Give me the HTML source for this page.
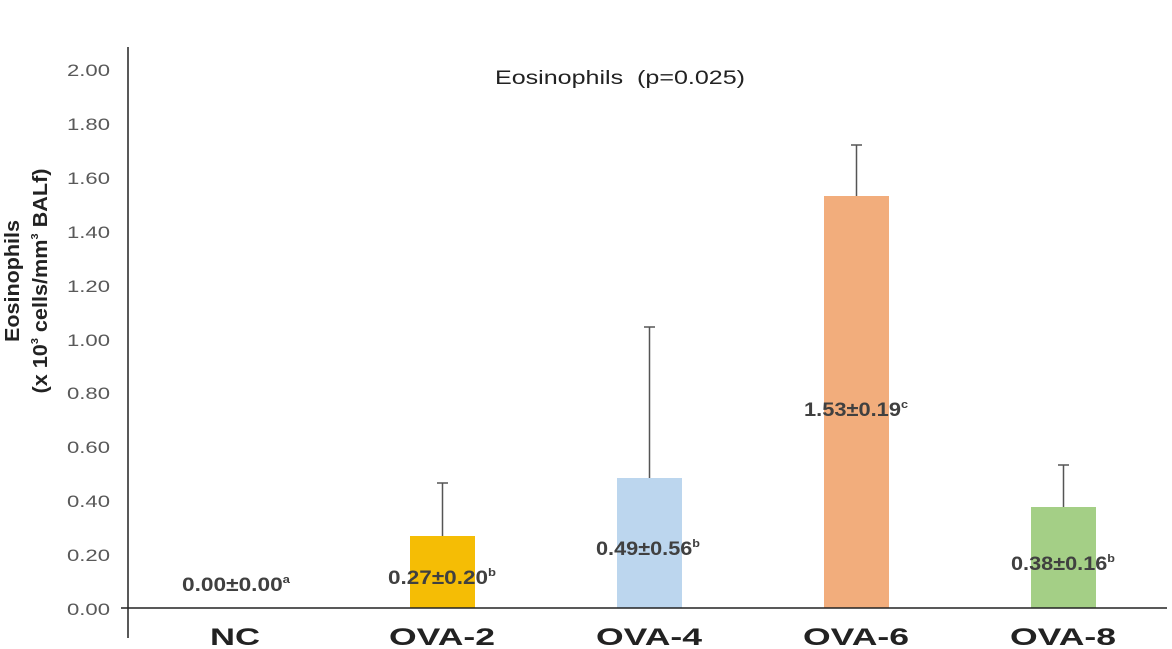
<!DOCTYPE html>
<html><head><meta charset="utf-8"><style>
html,body{margin:0;padding:0;background:#fff;}
svg{display:block;font-family:"Liberation Sans",sans-serif;}
</style></head><body>
<svg width="1172" height="649" viewBox="0 0 1172 649">
<rect width="1172" height="649" fill="#fff"/>
<g font-size="17" fill="#595959" text-anchor="end">
<text x="110" y="615" textLength="43" lengthAdjust="spacingAndGlyphs">0.00</text>
<text x="110" y="561" textLength="43" lengthAdjust="spacingAndGlyphs">0.20</text>
<text x="110" y="507" textLength="43" lengthAdjust="spacingAndGlyphs">0.40</text>
<text x="110" y="453" textLength="43" lengthAdjust="spacingAndGlyphs">0.60</text>
<text x="110" y="399" textLength="43" lengthAdjust="spacingAndGlyphs">0.80</text>
<text x="110" y="346" textLength="43" lengthAdjust="spacingAndGlyphs">1.00</text>
<text x="110" y="292" textLength="43" lengthAdjust="spacingAndGlyphs">1.20</text>
<text x="110" y="238" textLength="43" lengthAdjust="spacingAndGlyphs">1.40</text>
<text x="110" y="184" textLength="43" lengthAdjust="spacingAndGlyphs">1.60</text>
<text x="110" y="130" textLength="43" lengthAdjust="spacingAndGlyphs">1.80</text>
<text x="110" y="76" textLength="43" lengthAdjust="spacingAndGlyphs">2.00</text>
</g>
<g font-size="20" font-weight="bold" fill="#222" text-anchor="middle">
<text transform="translate(19,281) rotate(-90)" textLength="122" lengthAdjust="spacingAndGlyphs">Eosinophils</text>
<text transform="translate(47,281) rotate(-90)" textLength="225" lengthAdjust="spacingAndGlyphs">(x 10<tspan font-size="10" dy="-9">3</tspan><tspan dy="9"> cells/mm</tspan><tspan font-size="10" dy="-9">3</tspan><tspan dy="9"> BALf)</tspan></text>
</g>
<text x="620" y="84" font-size="19" fill="#222" text-anchor="middle" textLength="250" lengthAdjust="spacingAndGlyphs" xml:space="preserve">Eosinophils  (p=0.025)</text>
<rect x="410" y="536" width="65" height="72" fill="#f5bd05"/>
<rect x="617" y="478" width="65" height="130" fill="#bcd6ee"/>
<rect x="824" y="196" width="65" height="412" fill="#f2ad7c"/>
<rect x="1031" y="507" width="65" height="101" fill="#a4cf86"/>
<g stroke="#555" stroke-width="1.5">
<line x1="442.5" y1="536" x2="442.5" y2="483"/><line x1="437" y1="483" x2="448" y2="483"/>
<line x1="649.5" y1="478" x2="649.5" y2="327"/><line x1="644" y1="327" x2="655" y2="327"/>
<line x1="856.5" y1="196" x2="856.5" y2="145"/><line x1="851" y1="145" x2="862" y2="145"/>
<line x1="1063.5" y1="507" x2="1063.5" y2="465"/><line x1="1058" y1="465" x2="1069" y2="465"/>
</g>
<line x1="128" y1="47" x2="128" y2="638" stroke="#222" stroke-width="1.5"/>
<line x1="121" y1="608" x2="1167" y2="608" stroke="#222" stroke-width="1.5"/>
<g font-size="19" font-weight="bold" fill="#404040" text-anchor="middle">
<text x="236" y="591" textLength="108" lengthAdjust="spacingAndGlyphs">0.00±0.00<tspan font-size="11" dy="-8">a</tspan></text>
<text x="442" y="584" textLength="108" lengthAdjust="spacingAndGlyphs">0.27±0.20<tspan font-size="11" dy="-8">b</tspan></text>
<text x="648" y="555" textLength="104" lengthAdjust="spacingAndGlyphs">0.49±0.56<tspan font-size="11" dy="-8">b</tspan></text>
<text x="856" y="416" textLength="104" lengthAdjust="spacingAndGlyphs">1.53±0.19<tspan font-size="11" dy="-8">c</tspan></text>
<text x="1063" y="570" textLength="104" lengthAdjust="spacingAndGlyphs">0.38±0.16<tspan font-size="11" dy="-8">b</tspan></text>
</g>
<g font-size="24" font-weight="bold" fill="#222" text-anchor="middle">
<text x="235" y="645" textLength="50" lengthAdjust="spacingAndGlyphs">NC</text>
<text x="442" y="645" textLength="106" lengthAdjust="spacingAndGlyphs">OVA-2</text>
<text x="649" y="645" textLength="106" lengthAdjust="spacingAndGlyphs">OVA-4</text>
<text x="856" y="645" textLength="106" lengthAdjust="spacingAndGlyphs">OVA-6</text>
<text x="1063" y="645" textLength="106" lengthAdjust="spacingAndGlyphs">OVA-8</text>
</g>
</svg>
</body></html>
